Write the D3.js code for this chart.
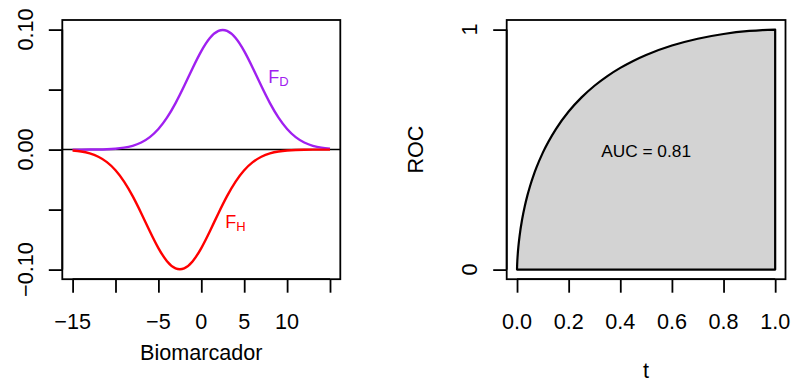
<!DOCTYPE html>
<html><head><meta charset="utf-8">
<script src="https://cdn.jsdelivr.net/npm/d3@7/dist/d3.min.js"></script>
<style>body{margin:0;background:#fff;} svg{display:block;font-family:"Liberation Sans",Arial,Helvetica,sans-serif;}</style>
</head><body>
<script>
// ---- data ----
const biomarker = [-15,-14,-13,-12,-11,-10,-9,-8,-7,-6,-5,-4,-3,-2,-1,0,1,2,3,4,5,6,7,8,9,10,11,12,13,14,15];
const densD = [0.0000070,0.0000201,0.0000548,0.000140,0.000335,0.000755,0.00160,0.00318,0.00594,0.01043,0.01720,0.02664,0.03876,0.05297,0.06801,0.08205,0.09297,0.09896,0.09896,0.09297,0.08205,0.06801,0.05297,0.03876,0.02664,0.01720,0.01043,0.00594,0.00318,0.00160,0.000755];
const densH = [-0.000755,-0.00160,-0.00318,-0.00594,-0.01043,-0.01720,-0.02664,-0.03876,-0.05297,-0.06801,-0.08205,-0.09297,-0.09896,-0.09896,-0.09297,-0.08205,-0.06801,-0.05297,-0.03876,-0.02664,-0.01720,-0.01043,-0.00594,-0.00318,-0.00160,-0.000755,-0.000335,-0.000140,-0.0000548,-0.0000201,-0.0000070];
const leftXTicks = [-15,-10,-5,0,5,10,15];
const leftXLabels = ["\u221215","","\u22125","0","5","10",""];
const leftYTicks = [-0.1,-0.05,0,0.05,0.1];
const leftYLabels = ["\u22120.10","","0.00","","0.10"];

const tVals = [0,0.0001,0.0005,0.001,0.002,0.003,0.005,0.01,0.02,0.03,0.04,0.05,0.065,0.075,0.1,0.15,0.2,0.25,0.3,0.35,0.4,0.45,0.5,0.6,0.7,0.8,0.9,0.95,1];
const rocVals = [0,0.0068,0.0206,0.0329,0.0518,0.0671,0.0924,0.1409,0.2107,0.2640,0.3082,0.3465,0.3959,0.4247,0.4874,0.5846,0.6585,0.7175,0.7660,0.8064,0.8405,0.8696,0.8944,0.9336,0.9620,0.9818,0.9943,0.9981,1];
const rightXTicks = [0,0.2,0.4,0.6,0.8,1.0];
const rightXLabels = ["0.0","0.2","0.4","0.6","0.8","1.0"];
const rightYTicks = [0,1];
const rightYLabels = ["0","1"];
const aucLabel = "AUC = 0.81";

// ---- layout ----
const W = 791, H = 383;
const svg = d3.select("body").append("svg").attr("width", W).attr("height", H);
const boxTop = 20, boxBot = 279.2;
const axisFont = 21.6, textFont = 17.3;

function panel(x0, x1, xDom, yDom) {
  return {
    x: d3.scaleLinear().domain(xDom).range([x0, x1]),
    y: d3.scaleLinear().domain(yDom).range([boxBot, boxTop])
  };
}
function drawAxes(p, xt, xl, yt, yl) {
  const [bx0, bx1] = p.x.range();
  const gx = svg.append("g").attr("transform", `translate(0,${boxBot})`)
    .call(d3.axisBottom(p.x).tickValues(xt).tickSize(13.5).tickPadding(0).tickFormat(""));
  gx.select(".domain").attr("d", `M${p.x(xt[0])},0H${p.x(xt[xt.length-1])}`).attr("stroke-width", 1.8);
  gx.selectAll(".tick line").attr("stroke-width", 1.8);
  svg.append("g").selectAll("text").data(xt).join("text")
    .attr("x", d => p.x(d)).attr("y", 329).attr("text-anchor", "middle")
    .attr("font-size", axisFont).attr("fill", "#000").text((d, i) => xl[i]);
  const gy = svg.append("g").attr("transform", `translate(${bx0},0)`)
    .call(d3.axisLeft(p.y).tickValues(yt).tickSize(13.5).tickPadding(0).tickFormat(""));
  gy.select(".domain").attr("d", `M0,${p.y(yt[0])}V${p.y(yt[yt.length-1])}`).attr("stroke-width", 1.8);
  gy.selectAll(".tick line").attr("stroke-width", 1.8);
  svg.append("g").selectAll("text").data(yt).join("text")
    .attr("transform", d => `translate(${bx0 - 29.5},${p.y(d)}) rotate(-90)`)
    .attr("text-anchor", "middle").attr("font-size", axisFont).attr("fill", "#000")
    .text((d, i) => yl[i]);
}
function drawBox(p) {
  const [bx0, bx1] = p.x.range();
  svg.append("rect").attr("x", bx0).attr("y", boxTop).attr("width", bx1 - bx0).attr("height", boxBot - boxTop)
    .attr("fill", "none").attr("stroke", "#000").attr("stroke-width", 1.8);
}

// ---- left panel ----
const L = panel(62.3, 340.3, [-16.2, 16.2], [-0.108, 0.108]);
const lineD = d3.line().x((d, i) => L.x(biomarker[i])).y(d => L.y(d)).curve(d3.curveNatural);
svg.append("line").attr("x1", L.x.range()[0]).attr("x2", L.x.range()[1])
  .attr("y1", L.y(0)).attr("y2", L.y(0)).attr("stroke", "#000").attr("stroke-width", 1.5);
svg.append("path").attr("d", lineD(densD)).attr("fill", "none").attr("stroke", "#A020F0").attr("stroke-width", 2.4);
svg.append("path").attr("d", lineD(densH)).attr("fill", "none").attr("stroke", "#FF0000").attr("stroke-width", 2.4);
drawBox(L);
drawAxes(L, leftXTicks, leftXLabels, leftYTicks, leftYLabels);
function subLabel(x, y, main, sub, color) {
  const t = svg.append("text").attr("x", x).attr("y", y).attr("fill", color).attr("font-size", 18);
  t.append("tspan").text(main);
  t.append("tspan").attr("dy", 3.5).attr("font-size", 13).text(sub);
}
subLabel(L.x(7.8), 82.5, "F", "D", "#A020F0");
subLabel(L.x(2.8), 227.8, "F", "H", "#FF0000");
svg.append("text").attr("x", 201.3).attr("y", 359.5).attr("text-anchor", "middle")
  .attr("font-size", axisFont).text("Biomarcador");

// ---- right panel ----
const R = panel(506.7, 785.5, [-0.04, 1.04], [-0.04, 1.04]);
const pts = tVals.map((t, i) => [R.x(t), R.y(rocVals[i])]);
const rocLine = d3.line().curve(d3.curveMonotoneX);
const polyPath = rocLine(pts) + `L${R.x(1)},${R.y(0)}L${R.x(0)},${R.y(0)}Z`;
svg.append("path").attr("d", polyPath).attr("fill", "#D3D3D3").attr("stroke", "#000")
  .attr("stroke-width", 2.2).attr("stroke-linejoin", "round");
drawBox(R);
drawAxes(R, rightXTicks, rightXLabels, rightYTicks, rightYLabels);
svg.append("text").attr("x", R.x(0.5)).attr("y", 156.5).attr("text-anchor", "middle")
  .attr("font-size", textFont).text(aucLabel);
svg.append("text").attr("x", R.x(0.5)).attr("y", 378).attr("text-anchor", "middle")
  .attr("font-size", axisFont).text("t");
svg.append("text").attr("transform", `translate(422.5,${(boxTop + boxBot) / 2}) rotate(-90)`)
  .attr("text-anchor", "middle").attr("font-size", axisFont).text("ROC");
</script>
</body></html>
